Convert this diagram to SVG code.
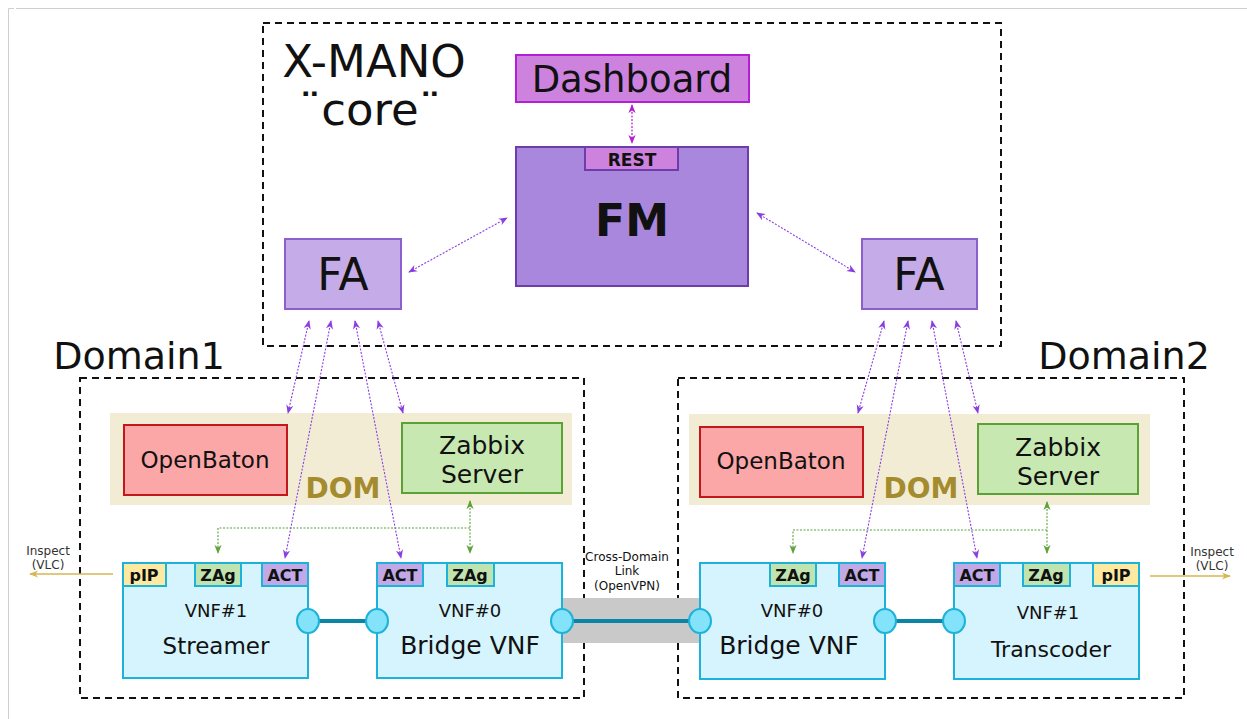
<svg xmlns="http://www.w3.org/2000/svg" width="1247" height="719" viewBox="0 0 1247 719">
<style>
text{font-family:"DejaVu Sans","Liberation Sans",sans-serif;fill:#111;text-anchor:middle}
.b{font-weight:bold}
.frame{fill:none;stroke:#111;stroke-width:2;stroke-dasharray:7,5}
.dom{fill:#f3ecd5}
.vnf{fill:#d6f4fd;stroke:#1db2d9;stroke-width:2}
.port{fill:#82e3fa;stroke:#1db2d9;stroke-width:2}
.link{stroke:#0a85a6;stroke-width:4}
.pip{fill:#fde9a0;stroke:#1db2d9;stroke-width:2}
.zag{fill:#bfe4b0;stroke:#1db2d9;stroke-width:2}
.act{fill:#c1a8e6;stroke:#1db2d9;stroke-width:2}
.tab{font-size:16px;font-weight:bold}
.pa{stroke:#8a3ee0;stroke-width:1.1;stroke-dasharray:2,1.5;fill:none}
.ga{stroke:#5da33a;stroke-width:1.1;stroke-dasharray:2,1.5;fill:none}
.ma{stroke:#b41fd4;stroke-width:1.2;stroke-dasharray:2,1.5;fill:none}
.ia{stroke:#d6b653;stroke-width:1.6;fill:none}
</style>
<defs>
<marker id="mp" viewBox="0 0 10 10" refX="9" refY="5" markerWidth="9" markerHeight="9" markerUnits="userSpaceOnUse" orient="auto-start-reverse"><path d="M0,1 L10,5 L0,9 L3,5 Z" fill="#8a3ee0"/></marker>
<marker id="mg" viewBox="0 0 10 10" refX="9" refY="5" markerWidth="9" markerHeight="9" markerUnits="userSpaceOnUse" orient="auto-start-reverse"><path d="M0,1 L10,5 L0,9 L3,5 Z" fill="#5da33a"/></marker>
<marker id="mm" viewBox="0 0 10 10" refX="9" refY="5" markerWidth="9" markerHeight="9" markerUnits="userSpaceOnUse" orient="auto-start-reverse"><path d="M0,1 L10,5 L0,9 L3,5 Z" fill="#b41fd4"/></marker>
<marker id="mi" viewBox="0 0 10 10" refX="9" refY="5" markerWidth="11" markerHeight="9" markerUnits="userSpaceOnUse" orient="auto-start-reverse"><path d="M0,1 L10,5 L0,9 L3,5 Z" fill="#d6b653"/></marker>
</defs>
<rect width="1247" height="719" fill="#fff"/>
<path d="M16,8.5 H1247 M8.5,10 V719 M8.5,15 V8.5 H14" stroke="#cfcfcf" stroke-width="1" fill="none"/>

<g id="xmano">
<rect class="frame" x="263" y="23" width="738" height="323"/>
<text x="374" y="77" style="font-size:45px">X-MANO</text>
<text x="370" y="125" style="font-size:45px">¨core¨</text>
</g>
<g id="domain1">
<text x="139" y="369" style="font-size:38px">Domain1</text>
<rect class="frame" x="80" y="378" width="504" height="320"/>
<rect class="dom" x="110" y="413" width="462" height="92"/>
<text class="b" x="343" y="498" style="font-size:28px;fill:#a48b2e">DOM</text>
</g>
<g id="domain2">
<text x="1124" y="369" style="font-size:38px">Domain2</text>
<rect class="frame" x="678" y="378" width="506" height="320"/>
<rect class="dom" x="689" y="414" width="461" height="91"/>
<text class="b" x="921" y="498" style="font-size:28px;fill:#a48b2e">DOM</text>
</g>

<g id="crosslink">
<rect x="562" y="598" width="138" height="45" fill="#c9c9c9"/>
<text x="627" y="561" style="font-size:12px">Cross-Domain</text>
<text x="627" y="575" style="font-size:12px">Link</text>
<text x="627" y="590" style="font-size:12px">(OpenVPN)</text>
</g>

<g id="connectors">
<line class="ma" x1="632" y1="105" x2="632" y2="143" marker-start="url(#mm)" marker-end="url(#mm)"/>
<line class="pa" x1="409" y1="272" x2="507" y2="218" marker-start="url(#mp)" marker-end="url(#mp)"/>
<line class="pa" x1="757" y1="213" x2="855" y2="272" marker-start="url(#mp)" marker-end="url(#mp)"/>
<line class="pa" x1="309" y1="321" x2="288" y2="413" marker-start="url(#mp)" marker-end="url(#mp)"/>
<line class="pa" x1="331" y1="321" x2="285" y2="558" marker-start="url(#mp)" marker-end="url(#mp)"/>
<line class="pa" x1="355" y1="321" x2="401" y2="558" marker-start="url(#mp)" marker-end="url(#mp)"/>
<line class="pa" x1="378" y1="321" x2="403" y2="413" marker-start="url(#mp)" marker-end="url(#mp)"/>
<line class="pa" x1="884" y1="321" x2="858" y2="413" marker-start="url(#mp)" marker-end="url(#mp)"/>
<line class="pa" x1="908" y1="321" x2="862" y2="558" marker-start="url(#mp)" marker-end="url(#mp)"/>
<line class="pa" x1="932" y1="321" x2="977" y2="558" marker-start="url(#mp)" marker-end="url(#mp)"/>
<line class="pa" x1="956" y1="321" x2="978" y2="413" marker-start="url(#mp)" marker-end="url(#mp)"/>
<line class="ga" x1="470" y1="501" x2="470" y2="553" marker-start="url(#mg)" marker-end="url(#mg)"/>
<path class="ga" d="M470,528 H218 V553" marker-end="url(#mg)"/>
<line class="ga" x1="1047" y1="502" x2="1047" y2="553" marker-start="url(#mg)" marker-end="url(#mg)"/>
<path class="ga" d="M1047,530 H793 V553" marker-end="url(#mg)"/>
<line class="ia" x1="113" y1="574" x2="30" y2="574" marker-end="url(#mi)"/>
<line class="ia" x1="1150" y1="576" x2="1230" y2="576" marker-end="url(#mi)"/>
<line class="link" x1="308" y1="621" x2="377" y2="621"/>
<line class="link" x1="562" y1="621" x2="700" y2="621"/>
<line class="link" x1="885" y1="621" x2="954" y2="621"/>
</g>

<text x="48" y="555" style="font-size:12px;fill:#333">Inspect</text>
<text x="48" y="569" style="font-size:12px;fill:#333">(VLC)</text>
<text x="1212" y="556" style="font-size:12px;fill:#333">Inspect</text>
<text x="1212" y="570" style="font-size:12px;fill:#333">(VLC)</text>

<g id="dashboard">
<rect x="516" y="55" width="233" height="47" fill="#cd82de" stroke="#b41fd4" stroke-width="2"/>
<text x="632" y="92" style="font-size:37px">Dashboard</text>
</g>
<g id="fm">
<rect x="516" y="147" width="232" height="139" fill="#a987dd" stroke="#6d3eab" stroke-width="2"/>
<rect x="585" y="147" width="93" height="23" fill="#cd82de" stroke="#6d3eab" stroke-width="2"/>
<text class="b" x="632" y="166" style="font-size:17px">REST</text>
<text class="b" x="632" y="236" style="font-size:44px">FM</text>
</g>
<g id="fa1">
<rect x="285" y="239" width="116" height="70" fill="#c5abe7" stroke="#8d5fcc" stroke-width="2"/>
<text x="343" y="290" style="font-size:44px">FA</text>
</g>
<g id="fa2">
<rect x="862" y="239" width="115" height="70" fill="#c5abe7" stroke="#8d5fcc" stroke-width="2"/>
<text x="919" y="290" style="font-size:44px">FA</text>
</g>

<g id="openbaton1">
<rect x="124" y="425" width="163" height="70" fill="#fca7a7" stroke="#c2181b" stroke-width="2"/>
<text x="205" y="468" style="font-size:23px">OpenBaton</text>
</g>
<g id="zabbix1">
<rect x="402" y="423" width="160" height="70" fill="#c7e9b1" stroke="#5aa238" stroke-width="2"/>
<text x="482" y="454" style="font-size:25px">Zabbix</text>
<text x="482" y="483" style="font-size:25px">Server</text>
</g>
<g id="openbaton2">
<rect x="700" y="427" width="163" height="70" fill="#fca7a7" stroke="#c2181b" stroke-width="2"/>
<text x="781" y="469" style="font-size:23px">OpenBaton</text>
</g>
<g id="zabbix2">
<rect x="978" y="424" width="160" height="70" fill="#c7e9b1" stroke="#5aa238" stroke-width="2"/>
<text x="1058" y="456" style="font-size:25px">Zabbix</text>
<text x="1058" y="485" style="font-size:25px">Server</text>
</g>

<g id="streamer">
<rect class="vnf" x="123" y="563" width="185" height="115"/>
<rect class="pip" x="123" y="563" width="43" height="23"/><text class="tab" x="144" y="581">pIP</text>
<rect class="zag" x="195" y="563" width="46" height="23"/><text class="tab" x="218" y="581">ZAg</text>
<rect class="act" x="262" y="563" width="46" height="23"/><text class="tab" x="285" y="581">ACT</text>
<text x="216" y="617" style="font-size:18px">VNF#1</text>
<text x="216" y="654" style="font-size:23px">Streamer</text>
<ellipse class="port" cx="308" cy="621" rx="11" ry="12"/>
</g>
<g id="bridge1">
<rect class="vnf" x="377" y="563" width="185" height="115"/>
<rect class="act" x="377" y="563" width="46" height="23"/><text class="tab" x="400" y="581">ACT</text>
<rect class="zag" x="447" y="563" width="47" height="23"/><text class="tab" x="470" y="581">ZAg</text>
<text x="470" y="617" style="font-size:18px">VNF#0</text>
<text x="470" y="654" style="font-size:25px">Bridge VNF</text>
<ellipse class="port" cx="377" cy="621" rx="11" ry="12"/>
<ellipse class="port" cx="562" cy="621" rx="11" ry="12"/>
</g>
<g id="bridge2">
<rect class="vnf" x="700" y="563" width="185" height="116"/>
<rect class="zag" x="770" y="563" width="46" height="23"/><text class="tab" x="793" y="581">ZAg</text>
<rect class="act" x="839" y="563" width="46" height="23"/><text class="tab" x="862" y="581">ACT</text>
<text x="792" y="617" style="font-size:18px">VNF#0</text>
<text x="789" y="654" style="font-size:25px">Bridge VNF</text>
<ellipse class="port" cx="700" cy="621" rx="11" ry="12"/>
<ellipse class="port" cx="885" cy="621" rx="11" ry="12"/>
</g>
<g id="transcoder">
<rect class="vnf" x="954" y="563" width="185" height="116"/>
<rect class="act" x="954" y="563" width="46" height="23"/><text class="tab" x="977" y="581">ACT</text>
<rect class="zag" x="1023" y="563" width="47" height="23"/><text class="tab" x="1046" y="581">ZAg</text>
<rect class="pip" x="1093" y="563" width="46" height="23"/><text class="tab" x="1116" y="581">pIP</text>
<text x="1048" y="619" style="font-size:18px">VNF#1</text>
<text x="1051" y="657" style="font-size:22px">Transcoder</text>
<ellipse class="port" cx="954" cy="621" rx="11" ry="12"/>
</g>
</svg>
